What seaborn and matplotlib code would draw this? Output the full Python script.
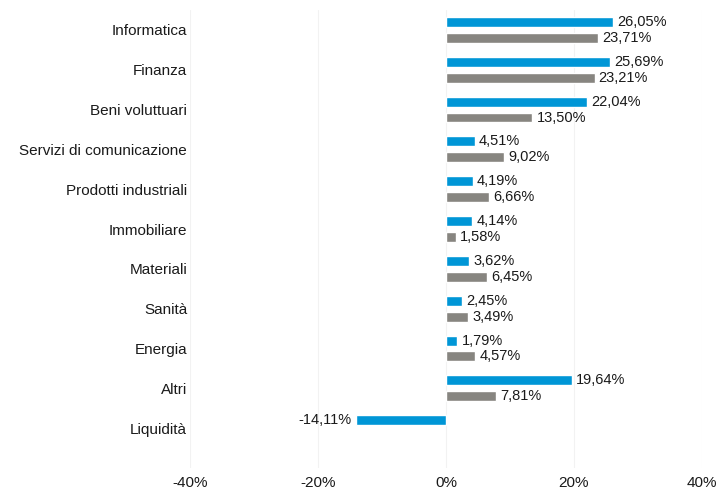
import pandas as pd
import numpy as np
import matplotlib
matplotlib.use('Agg')
import matplotlib.pyplot as plt
import seaborn as sns

categories = ['Informatica', 'Finanza', 'Beni voluttuari', 'Servizi di comunicazione',
              'Prodotti industriali', 'Immobiliare', 'Materiali', 'Sanità', 'Energia',
              'Altri', 'Liquidità']
fondo = [26.05, 25.69, 22.04, 4.51, 4.19, 4.14, 3.62, 2.45, 1.79, 19.64, -14.11]
indice = [23.71, 23.21, 13.50, 9.02, 6.66, 1.58, 6.45, 3.49, 4.57, 7.81, np.nan]
ticks = [-40, -20, 0, 20, 40]

df = pd.DataFrame({
    'settore': categories * 2,
    'valore': fondo + indice,
    'serie': ['Fondo'] * len(categories) + ['Indice'] * len(categories),
})

sns.set_style('white')
plt.rcParams['font.family'] = ['Liberation Sans', 'DejaVu Sans']

fig = plt.figure(figsize=(7.18, 4.92), dpi=100)
ax = fig.add_axes([0.2646, 0.0488, 0.7131, 0.9309])

sns.barplot(data=df, y='settore', x='valore', hue='serie', orient='h',
            palette=['#0096D6', '#878580'], width=0.8, gap=0.375,
            legend=False, ax=ax, saturation=1)

# etichette dei valori
for cont in ax.containers:
    for bar in cont:
        w = bar.get_width()
        if np.isnan(w) or w == 0:
            continue
        y = bar.get_y() + bar.get_height() / 2
        txt = f'{w:.2f}%'.replace('.', ',')
        if w >= 0:
            ax.annotate(txt, (w, y), xytext=(3, 0), textcoords='offset points',
                        va='center', ha='left', fontsize=10.5, color='#1a1a1a')
        else:
            ax.annotate(txt, (w, y), xytext=(-3, 0), textcoords='offset points',
                        va='center', ha='right', fontsize=10.5, color='#1a1a1a')

ax.set_xlim(-40, 40)
ax.set_ylim(11.0, -0.5)
ax.set_xticks(ticks)
ax.set_xticklabels([f'{t}%' for t in ticks])
ax.xaxis.grid(True, color='#F2F2F2', linewidth=0.8)
ax.set_axisbelow(True)
ax.tick_params(axis='x', length=0, pad=5.5, labelsize=11, labelcolor='#1a1a1a')
ax.tick_params(axis='y', length=0, pad=2, labelsize=11, labelcolor='#1a1a1a')
ax.set_xlabel('')
ax.set_ylabel('')
for s in ax.spines.values():
    s.set_visible(False)

fig.savefig('out.png', dpi=100)
